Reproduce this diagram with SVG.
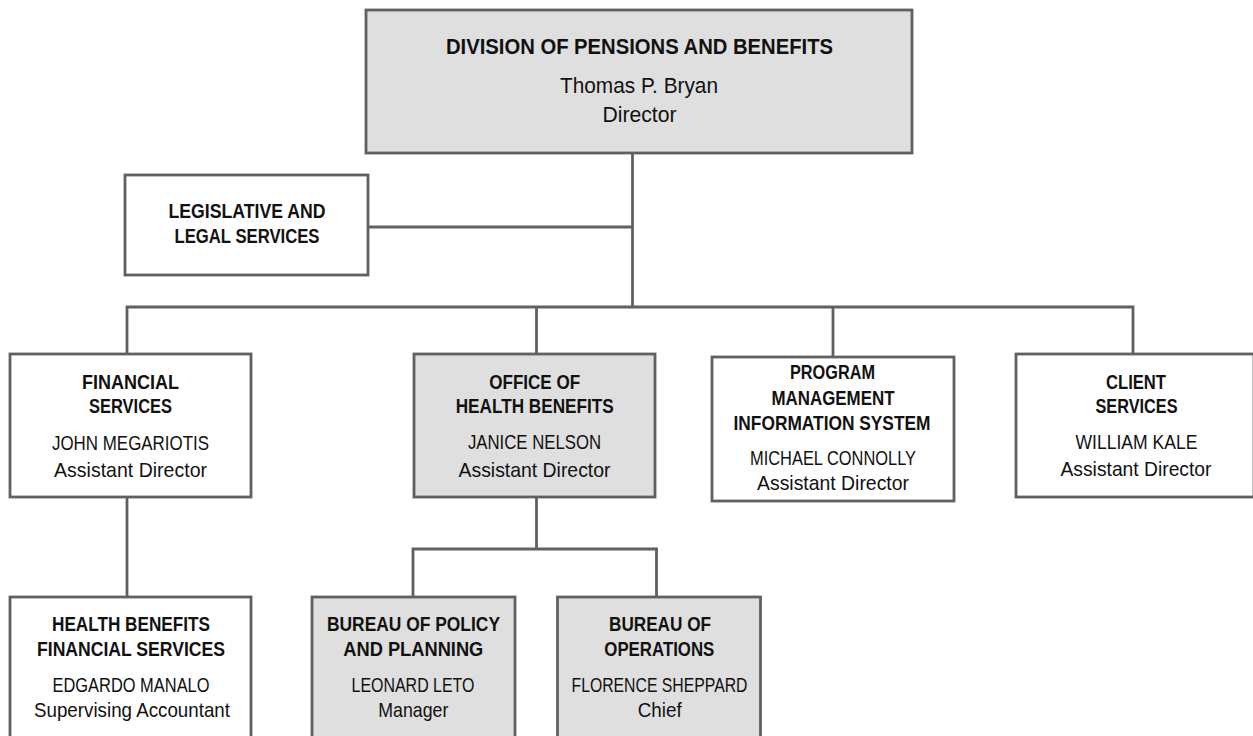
<svg xmlns="http://www.w3.org/2000/svg" width="1253" height="736" viewBox="0 0 1253 736">
<style>
.box{stroke:#606060;stroke-width:2.8}
.w{fill:#ffffff}
.g{fill:#dfdfdf}
.ln{stroke:#606060;stroke-width:2.8;fill:none}
text{font-family:"Liberation Sans",Arial,sans-serif;fill:#111;text-anchor:middle}
.t{font-weight:bold;font-size:20px}
.n{font-size:21px}
.tt{font-weight:bold;font-size:22px}
.nn{font-size:22.5px}
</style>
<rect width="1253" height="736" fill="#ffffff"/>
<g id="connectors">
<path class="ln" d="M632.5 153V307"/>
<path class="ln" d="M368 227H632.5"/>
<path class="ln" d="M127 354V307H1133V354"/>
<path class="ln" d="M536.5 307V354"/>
<path class="ln" d="M833 307V357"/>
<path class="ln" d="M127 497V597"/>
<path class="ln" d="M536.5 497V549"/>
<path class="ln" d="M413 597V549H656.5V597"/>
</g>
<g id="director">
<rect class="box g" x="366" y="10" width="546" height="143"/>
<text class="tt" x="639.5" y="54" textLength="387" lengthAdjust="spacingAndGlyphs">DIVISION OF PENSIONS AND BENEFITS</text>
<text class="nn" x="639" y="93" textLength="158" lengthAdjust="spacingAndGlyphs">Thomas P. Bryan</text>
<text class="nn" x="639.5" y="122" textLength="74" lengthAdjust="spacingAndGlyphs">Director</text>
</g>
<g id="legislative">
<rect class="box w" x="125" y="175" width="243" height="100"/>
<text class="t" x="247" y="218" textLength="157" lengthAdjust="spacingAndGlyphs">LEGISLATIVE AND</text>
<text class="t" x="247" y="243" textLength="145" lengthAdjust="spacingAndGlyphs">LEGAL SERVICES</text>
</g>
<g id="financial">
<rect class="box w" x="10" y="354" width="241" height="143"/>
<text class="t" x="130.5" y="389" textLength="97" lengthAdjust="spacingAndGlyphs">FINANCIAL</text>
<text class="t" x="130.5" y="413" textLength="83" lengthAdjust="spacingAndGlyphs">SERVICES</text>
<text class="n" x="130.5" y="450" textLength="157" lengthAdjust="spacingAndGlyphs">JOHN MEGARIOTIS</text>
<text class="n" x="130.5" y="477" textLength="153" lengthAdjust="spacingAndGlyphs">Assistant Director</text>
</g>
<g id="office">
<rect class="box g" x="414" y="354" width="241" height="143"/>
<text class="t" x="534.7" y="389" textLength="91" lengthAdjust="spacingAndGlyphs">OFFICE OF</text>
<text class="t" x="534.7" y="413" textLength="158" lengthAdjust="spacingAndGlyphs">HEALTH BENEFITS</text>
<text class="n" x="534.5" y="449" textLength="133" lengthAdjust="spacingAndGlyphs">JANICE NELSON</text>
<text class="n" x="534.5" y="476.5" textLength="152" lengthAdjust="spacingAndGlyphs">Assistant Director</text>
</g>
<g id="program">
<rect class="box w" x="712" y="357" width="242" height="144"/>
<text class="t" x="832.5" y="379" textLength="85" lengthAdjust="spacingAndGlyphs">PROGRAM</text>
<text class="t" x="833" y="404.5" textLength="123" lengthAdjust="spacingAndGlyphs">MANAGEMENT</text>
<text class="t" x="832" y="430" textLength="197" lengthAdjust="spacingAndGlyphs">INFORMATION SYSTEM</text>
<text class="n" x="833" y="465" textLength="166" lengthAdjust="spacingAndGlyphs">MICHAEL CONNOLLY</text>
<text class="n" x="833" y="490" textLength="152" lengthAdjust="spacingAndGlyphs">Assistant Director</text>
</g>
<g id="client">
<rect class="box w" x="1016" y="354" width="238" height="143"/>
<text class="t" x="1136" y="389" textLength="60" lengthAdjust="spacingAndGlyphs">CLIENT</text>
<text class="t" x="1136.5" y="413" textLength="82" lengthAdjust="spacingAndGlyphs">SERVICES</text>
<text class="n" x="1136.5" y="448.5" textLength="122" lengthAdjust="spacingAndGlyphs">WILLIAM KALE</text>
<text class="n" x="1136" y="475.5" textLength="151" lengthAdjust="spacingAndGlyphs">Assistant Director</text>
</g>
<g id="hb-financial">
<rect class="box w" x="10" y="597" width="241" height="150"/>
<text class="t" x="131" y="631" textLength="158" lengthAdjust="spacingAndGlyphs">HEALTH BENEFITS</text>
<text class="t" x="131" y="656" textLength="188" lengthAdjust="spacingAndGlyphs">FINANCIAL SERVICES</text>
<text class="n" x="131" y="692" textLength="157" lengthAdjust="spacingAndGlyphs">EDGARDO MANALO</text>
<text class="n" x="132" y="716.5" textLength="196" lengthAdjust="spacingAndGlyphs">Supervising Accountant</text>
</g>
<g id="policy">
<rect class="box g" x="312" y="597" width="203" height="150"/>
<text class="t" x="413.5" y="631" textLength="173" lengthAdjust="spacingAndGlyphs">BUREAU OF POLICY</text>
<text class="t" x="413.3" y="656" textLength="140" lengthAdjust="spacingAndGlyphs">AND PLANNING</text>
<text class="n" x="413" y="692" textLength="123" lengthAdjust="spacingAndGlyphs">LEONARD LETO</text>
<text class="n" x="413.3" y="716.5" textLength="70" lengthAdjust="spacingAndGlyphs">Manager</text>
</g>
<g id="operations">
<rect class="box g" x="557.5" y="597" width="203" height="150"/>
<text class="t" x="660" y="631" textLength="102" lengthAdjust="spacingAndGlyphs">BUREAU OF</text>
<text class="t" x="659.3" y="656" textLength="110" lengthAdjust="spacingAndGlyphs">OPERATIONS</text>
<text class="n" x="659.5" y="692" textLength="176" lengthAdjust="spacingAndGlyphs">FLORENCE SHEPPARD</text>
<text class="n" x="659.7" y="716.5" textLength="44" lengthAdjust="spacingAndGlyphs">Chief</text>
</g>
</svg>
